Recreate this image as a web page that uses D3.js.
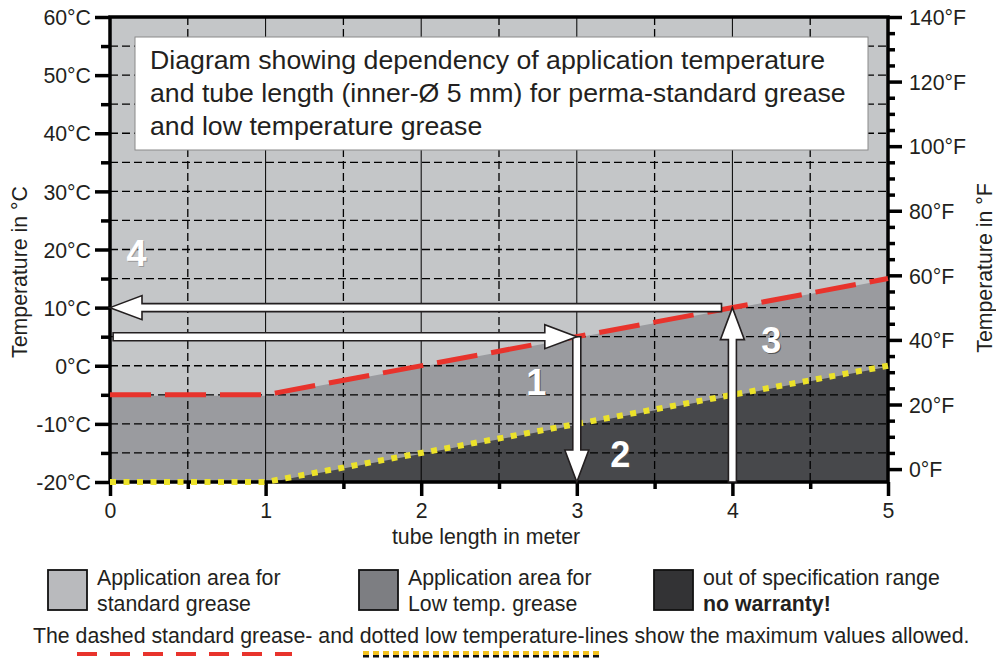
<!DOCTYPE html>
<html><head><meta charset="utf-8">
<script src="https://cdn.jsdelivr.net/npm/d3@7"></script>
<style>
body{margin:0;background:#fff}
text{font-family:"Liberation Sans",Arial,sans-serif;fill:#231f20}
</style>
</head><body>
<svg id="c" width="996" height="661"></svg>
<script>
// ---- data ----
const lengths = [0, 1, 5];
const standardMax = [-5, -5, 15];
const lowTempMax = [-20, -20, 0];
const celsiusTicks = [-20, -10, 0, 10, 20, 30, 40, 50, 60];
const fahrenheitTicks = [0, 20, 40, 60, 80, 100, 120, 140];
const lengthTicks = [0, 1, 2, 3, 4, 5];
const titleLines = [
  "Diagram showing dependency of application temperature",
  "and tube length (inner-Ø 5 mm) for perma-standard grease",
  "and low temperature grease"
];
const arrowFrom = [[0.02, 5], [3, 5], [4, -20], [3.93, 10]];
const arrowTo = [[3, 5], [3, -20], [4, 10], [0, 10]];
const stepNames = ["1", "2", "3", "4"];
const stepX = [2.74, 3.28, 4.25, 0.17];
const stepY = [-5, -17.4, 2.2, 17.2];
const legendLabels = [
  ["Application area for", "standard grease"],
  ["Application area for", "Low temp. grease"],
  ["out of specification range", "no warranty!"]
];
const footnote = "The dashed standard grease- and dotted low temperature-lines show the maximum values allowed.";

// ---- setup ----
const svg = d3.select("#c");
const x = d3.scaleLinear().domain([0, 5]).range([110, 888]);
const y = d3.scaleLinear().domain([-20, 60]).range([482, 17]);
const yF = d3.scaleLinear().domain([-20 * 9 / 5 + 32, 60 * 9 / 5 + 32]).range([482, 17]);
const C_LIGHT = "#c4c6c8", C_MED = "#9a9b9f", C_DARK = "#47484b";
const FS = 21.3;

const pts = lengths.map((l, i) => ({l, s: standardMax[i], t: lowTempMax[i]}));

// fills
svg.append("rect").attr("x", x(0)).attr("y", y(60)).attr("width", x(5) - x(0)).attr("height", y(-20) - y(60)).attr("fill", C_LIGHT);
svg.append("path").datum(pts).attr("fill", C_MED)
  .attr("d", d3.area().x(d => x(d.l)).y0(y(-20)).y1(d => y(d.s) + 1));
svg.append("path").datum(pts).attr("fill", C_DARK)
  .attr("d", d3.area().x(d => x(d.l)).y0(y(-20)).y1(d => y(d.t) + 1));

// grid
const grid = svg.append("g");
d3.range(-15, 60, 5).forEach(v => {
  grid.append("line").attr("x1", x(0)).attr("x2", x(5)).attr("y1", y(v)).attr("y2", y(v))
    .attr("stroke", "#000").attr("stroke-width", 1.3).attr("stroke-dasharray", "8,4");
});
d3.range(0.5, 5, 0.5).forEach(v => {
  const isInt = Math.abs(v - Math.round(v)) < 1e-6;
  grid.append("line").attr("x1", x(v)).attr("x2", x(v)).attr("y1", y(60)).attr("y2", y(-20))
    .attr("stroke", "#000").attr("stroke-width", isInt ? 1 : 1.3)
    .attr("stroke-dasharray", isInt ? null : "8,4");
});

// axes
const axL = svg.append("g").attr("transform", `translate(${x(0)},0)`)
  .call(d3.axisLeft(y).tickValues(celsiusTicks).tickSize(15).tickFormat(d => d + "°C"));
const axLm = svg.append("g").attr("transform", `translate(${x(0)},0)`)
  .call(d3.axisLeft(y).tickValues(d3.range(-15, 60, 10)).tickSize(9).tickFormat(""));
const axR = svg.append("g").attr("transform", `translate(${x(5)},0)`)
  .call(d3.axisRight(yF).tickValues(fahrenheitTicks).tickSize(14).tickFormat(d => d + "°F"));
const axRm = svg.append("g").attr("transform", `translate(${x(5)},0)`)
  .call(d3.axisRight(yF).tickValues(d3.range(5, 140, 5).filter(v => v % 20 !== 0)).tickSize(7).tickFormat(""));
const axB = svg.append("g").attr("transform", `translate(0,${y(-20)})`)
  .call(d3.axisBottom(x).tickValues(lengthTicks).tickSize(14).tickFormat(d => d));
const axBm = svg.append("g").attr("transform", `translate(0,${y(-20)})`)
  .call(d3.axisBottom(x).tickValues(d3.range(0.5, 5, 1)).tickSize(7).tickFormat(""));
[axL, axLm, axR, axRm, axB, axBm].forEach(g => {
  g.select(".domain").remove();
  g.selectAll(".tick line").attr("stroke", "#000").attr("stroke-width", 3.5);
  g.selectAll(".tick text").attr("font-size", FS).attr("font-family", null).style("fill", "#231f20");
});
axL.selectAll(".tick text").attr("x", -19).attr("dy", "0.36em");
axR.selectAll(".tick text").attr("x", 21).attr("dy", "0.36em");
axB.selectAll(".tick text").attr("y", 21).attr("dy", "0.71em");

// frame
svg.append("rect").attr("x", x(0)).attr("y", y(60)).attr("width", x(5) - x(0)).attr("height", y(-20) - y(60))
  .attr("fill", "none").attr("stroke", "#000").attr("stroke-width", 3.5);

// max lines
const lineS = d3.line().x(d => x(d.l)).y(d => y(d.s));
const lineT = d3.line().x(d => x(d.l)).y(d => y(d.t));
svg.append("path").datum(pts).attr("d", lineS).attr("fill", "none")
  .attr("stroke", "#e8332c").attr("stroke-width", 5).attr("stroke-dasharray", "41,14");
svg.append("path").datum(pts).attr("d", lineT).attr("fill", "none")
  .attr("stroke", "#ece22a").attr("stroke-width", 6).attr("stroke-dasharray", "6,7.5");

// arrows
function arrowPath(p0, p1, w, L, H) {
  const dx = p1[0] - p0[0], dy = p1[1] - p0[1];
  const len = Math.hypot(dx, dy);
  const ux = dx / len, uy = dy / len, nx = -uy, ny = ux;
  const bx = p1[0] - ux * L, by = p1[1] - uy * L;
  const P = [
    [p0[0] + nx * w, p0[1] + ny * w],
    [bx + nx * w, by + ny * w],
    [bx + nx * H, by + ny * H],
    [p1[0], p1[1]],
    [bx - nx * H, by - ny * H],
    [bx - nx * w, by - ny * w],
    [p0[0] - nx * w, p0[1] - ny * w]
  ];
  return "M" + P.map(p => p.join(",")).join("L") + "Z";
}
const arrowG = svg.append("g");
[1, 0, 2, 3].forEach(i => {
  const p0 = [x(arrowFrom[i][0]), y(arrowFrom[i][1])];
  const p1 = [x(arrowTo[i][0]), y(arrowTo[i][1])];
  arrowG.append("path").attr("d", arrowPath(p0, p1, 4, 32, 12))
    .attr("fill", "#fff").attr("stroke", "#231f20").attr("stroke-width", 1.6)
    .attr("stroke-linejoin", "miter");
});

// step labels
stepNames.forEach((n, i) => {
  svg.append("text").attr("x", x(stepX[i]) + 1).attr("y", y(stepY[i]) + 1)
    .attr("text-anchor", "middle").attr("font-size", 36).attr("font-weight", "bold")
    .style("fill", i === 3 ? "#9a9a9a" : "#555").text(n);
  svg.append("text").attr("x", x(stepX[i])).attr("y", y(stepY[i]))
    .attr("text-anchor", "middle").attr("font-size", 36).attr("font-weight", "bold")
    .style("fill", "#fff").text(n);
});

// title box
svg.append("rect").attr("x", 135).attr("y", 37).attr("width", 733).attr("height", 113)
  .attr("fill", "#fff").attr("stroke", "#8a8a8a").attr("stroke-width", 1);
titleLines.forEach((t, i) => {
  svg.append("text").attr("x", 150).attr("y", 69 + i * 33).attr("font-size", 26.7).text(t);
});

// axis titles
svg.append("text").attr("transform", `translate(27,${272}) rotate(-90)`).attr("text-anchor", "middle")
  .attr("font-size", FS).text("Temperature in °C");
svg.append("text").attr("transform", `translate(992,${268}) rotate(-90)`).attr("text-anchor", "middle")
  .attr("font-size", FS).text("Temperature in °F");
svg.append("text").attr("x", 486).attr("y", 544).attr("text-anchor", "middle")
  .attr("font-size", FS).text("tube length in meter");

// legend
const legColors = ["#b9babd", "#7d7e82", "#333335"];
const legX = [48, 359, 654];
legendLabels.forEach((lab, i) => {
  svg.append("rect").attr("x", legX[i]).attr("y", 570).attr("width", 39).attr("height", 40)
    .attr("fill", legColors[i]).attr("stroke", "#111").attr("stroke-width", 1.8);
  lab.forEach((t, j) => {
    svg.append("text").attr("x", legX[i] + 49).attr("y", 585 + j * 26).attr("font-size", FS)
      .attr("font-weight", (i === 2 && j === 1) ? "bold" : null).text(t);
  });
});

// footnote
svg.append("text").attr("x", 33).attr("y", 643).attr("font-size", FS).text(footnote);
svg.append("line").attr("x1", 77).attr("x2", 292).attr("y1", 654).attr("y2", 654)
  .attr("stroke", "#e8332c").attr("stroke-width", 4).attr("stroke-dasharray", "20,13");
svg.append("line").attr("x1", 363).attr("x2", 602).attr("y1", 656).attr("y2", 656)
  .attr("stroke", "#111").attr("stroke-width", 3).attr("stroke-dasharray", "6,4");
svg.append("line").attr("x1", 363).attr("x2", 602).attr("y1", 653).attr("y2", 653)
  .attr("stroke", "#f2c21f").attr("stroke-width", 4).attr("stroke-dasharray", "6,4");
</script>
</body></html>
